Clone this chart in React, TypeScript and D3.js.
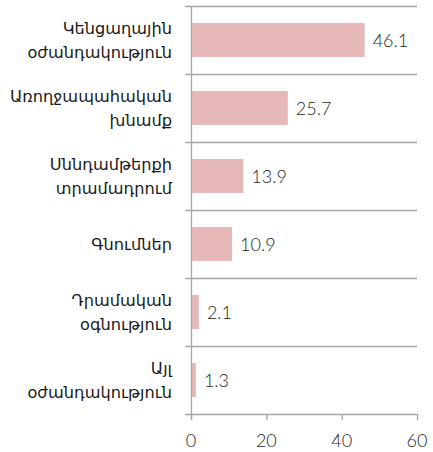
import React from "react";
import * as d3 from "d3";

const categories: string[][] = [
  ["Կենցաղային", "օժանդակություն"],
  ["Առողջապահական", "խնամք"],
  ["Սննդամթերքի", "տրամադրում"],
  ["Գնումներ"],
  ["Դրամական", "օգնություն"],
  ["Այլ", "օժանդակություն"],
];
const values: number[] = [46.1, 25.7, 13.9, 10.9, 2.1, 1.3];
const xTicks: number[] = [0, 20, 40, 60];

export default function App() {
  const W = 433, H = 452;
  const x0 = 191, x1 = 417, top = 6, bottom = 414;
  const x = d3.scaleLinear().domain([0, 60]).range([x0, x1]);
  const idx = categories.map((_, i) => String(i));
  const y = d3.scaleBand().domain(idx).range([top, bottom]).paddingInner(0.5).paddingOuter(0.25);
  const band = d3.scaleBand().domain(idx).range([top, bottom]);
  const grid = "#a6a6a6";
  const labelFont = "'DejaVu Sans', sans-serif";
  const numFont = "Lato, 'Open Sans', sans-serif";
  return (
    <svg width={W} height={H} style={{ position: "absolute", left: 0, top: 0 }}>
      {categories.map((_, i) => (
        <line key={"g" + i} x1={x0 - 6} x2={x1} y1={band(String(i))! + 0.5} y2={band(String(i))! + 0.5} stroke={grid} strokeWidth={1.3} />
      ))}
      <line x1={x0 - 6} x2={x1} y1={bottom + 0.5} y2={bottom + 0.5} stroke={grid} strokeWidth={1.3} />
      {values.map((v, i) => (
        <rect key={"b" + i} x={x(0)} y={y(String(i))!} width={x(v) - x(0)} height={y.bandwidth()} fill="#e6b8b7" />
      ))}
      <line x1={x0 + 0.5} x2={x0 + 0.5} y1={top} y2={bottom + 6} stroke={grid} strokeWidth={1.3} />
      {xTicks.map((t) => (
        <g key={"t" + t}>
          <line x1={x(t) + 0.5} x2={x(t) + 0.5} y1={bottom} y2={bottom + 6} stroke={grid} strokeWidth={1.3} />
          <text x={x(t)} y={440} textAnchor="middle" dominantBaseline="central" fontFamily={numFont} fontWeight={300} fontSize={18} fill="#262626">{t}</text>
        </g>
      ))}
      {values.map((v, i) => (
        <text key={"v" + i} x={x(v) + 8} y={y(String(i))! + y.bandwidth() / 2} dominantBaseline="central" fontFamily={numFont} fontWeight={300} fontSize={18} fill="#262626">{v.toFixed(1)}</text>
      ))}
      {categories.map((lines, i) => {
        const cy = band(String(i))! + band.bandwidth() / 2;
        const lh = 24;
        const start = cy - ((lines.length - 1) * lh) / 2;
        return (
          <text key={"c" + i} textAnchor="end" fontFamily={labelFont} fontSize={16.2} fill="#1a1a1a">
            {lines.map((l, j) => (
              <tspan key={j} x={172} y={start + j * lh} dominantBaseline="central">{l}</tspan>
            ))}
          </text>
        );
      })}
    </svg>
  );
}
